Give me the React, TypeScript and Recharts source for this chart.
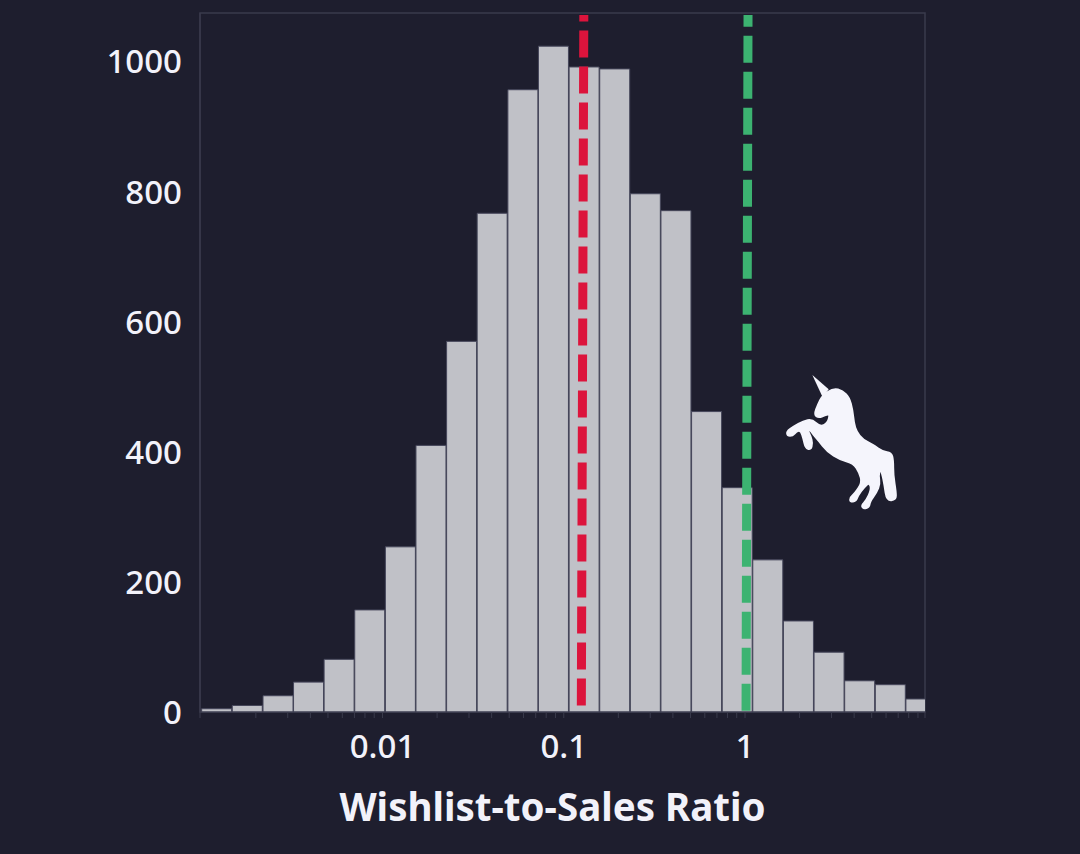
import { Bar, ComposedChart, Label, ReferenceArea, ReferenceLine, XAxis, YAxis } from 'recharts';

const binCenters = [
  0.00122, 0.0018, 0.00266, 0.00392, 0.00578, 0.00853, 0.01259, 0.01857, 0.0274, 0.0404, 0.0597, 0.088,
  0.1299, 0.1917, 0.2828, 0.4173, 0.6157, 0.9085, 1.34, 1.978, 2.918, 4.306, 6.353, 9.374,
];
const binCounts = [5, 10, 25, 46, 81, 157, 254, 410, 570, 767, 957, 1024, 992, 989, 797, 771, 462, 345, 234, 140, 92, 48, 42, 20];

const yTicks = [0, 200, 400, 600, 800, 1000];
const xTicks = [
  0.000984, 0.002, 0.003, 0.004, 0.005, 0.006, 0.007, 0.008, 0.009, 0.01, 0.02, 0.03, 0.04, 0.05, 0.06, 0.07, 0.08, 0.09, 0.1,
  0.2, 0.3, 0.4, 0.5, 0.6, 0.7, 0.8, 0.9, 1, 2, 3, 4, 5, 6, 7, 8, 9, 9.84,
];
const xLabels = [0.01, 0.1, 1];
const xDomain = [0.000984, 9.84];
const yDomain = [0, 1075];

const redLine = [0.125, 0.129];
const greenLine = [1.013, 1.039];

const COLORS = {
  background: '#1e1e2e',
  bar: '#c0c1c7',
  barEdge: '#45465a',
  frame: '#3a3b4c',
  text: '#f2f2fa',
  red: '#dc143c',
  green: '#3cb371',
};

const FONT = '"Noto Sans", sans-serif';

const data = binCenters.map((ratio, i) => ({ ratio, count: binCounts[i] }));

const HORN = 'M127 45 L176 88 L158 112 Z';
const UNICORN_POINTS = [
  [156, 108], [190, 84], [218, 92], [238, 112], [248, 150], [252, 190], [260, 215], [278, 238], [312, 256], [338, 274],
  [364, 278], [370, 300], [370, 345], [378, 395], [378, 420], [350, 422], [343, 375], [336, 340], [331, 328], [326, 345],
  [330, 372], [320, 397], [300, 425], [298, 442], [280, 447], [274, 436], [288, 422], [304, 388], [298, 368], [282, 382],
  [264, 407], [258, 424], [240, 426], [240, 412], [253, 402], [276, 368], [268, 338], [250, 310], [212, 300], [170, 274],
  [146, 242], [128, 222], [122, 212], [112, 208], [122, 228], [128, 250], [122, 270], [106, 264], [100, 236], [92, 212],
  [80, 214], [68, 228], [52, 228], [50, 214], [70, 200], [100, 183], [126, 177], [150, 200], [172, 190], [180, 162],
  [165, 166], [146, 174], [132, 164], [144, 132],
];

function smoothPath(points: number[][]) {
  const mid = (a: number[], b: number[]) => `${(a[0] + b[0]) / 2} ${(a[1] + b[1]) / 2}`;
  let d = `M${mid(points[points.length - 1], points[0])}`;
  points.forEach((p, i) => {
    d += ` Q${p[0]} ${p[1]} ${mid(p, points[(i + 1) % points.length])}`;
  });
  return d + ' Z';
}

export default function App() {
  return (
    <div style={{ position: 'absolute', left: 0, top: 0, width: 1080, height: 854, background: COLORS.background, overflow: 'hidden' }}>
      <ComposedChart width={1080} height={854} data={data} margin={{ top: 13, right: 155, bottom: 0, left: 0 }}>
        <ReferenceArea x1={xDomain[0]} x2={xDomain[1]} y1={yDomain[0]} y2={yDomain[1]} fill="none" stroke={COLORS.frame} strokeWidth={1.5} />
        <XAxis
          dataKey="ratio"
          type="number"
          scale="log"
          domain={xDomain}
          allowDataOverflow
          ticks={xTicks}
          interval={0}
          height={142}
          tickSize={6}
          tickMargin={17}
          stroke={COLORS.frame}
          tick={{ fill: COLORS.text, fontSize: 33, fontWeight: 500, fontFamily: FONT }}
          tickFormatter={(v: number) => (xLabels.includes(v) ? String(v) : '')}
        >
          <Label value="Wishlist-to-Sales Ratio" position="insideBottom" offset={33} dx={-10} fill={COLORS.text} fontSize={38.5} fontWeight={700} fontFamily={FONT} />
        </XAxis>
        <YAxis
          type="number"
          domain={yDomain}
          ticks={yTicks}
          width={200}
          tickSize={0}
          tickMargin={18}
          stroke={COLORS.frame}
          tick={{ fill: COLORS.text, fontSize: 33, fontWeight: 500, fontFamily: FONT }}
        />
        <Bar dataKey="count" barSize={30} fill={COLORS.bar} stroke={COLORS.barEdge} strokeWidth={1} isAnimationActive={false} />
        <ReferenceLine
          segment={[{ x: redLine[0], y: 10 }, { x: redLine[1], y: 1072 }]}
          stroke={COLORS.red}
          strokeWidth={9}
          strokeDasharray="27 9"
        />
        <ReferenceLine
          segment={[{ x: greenLine[0], y: 2 }, { x: greenLine[1], y: 1072 }]}
          stroke={COLORS.green}
          strokeWidth={9}
          strokeDasharray="27 9"
        />
      </ComposedChart>
      <svg width={140} height={160} viewBox="0 0 420 480" style={{ position: 'absolute', left: 770, top: 360 }}>
        <path d={HORN} fill="#f5f5fc" />
        <path d={smoothPath(UNICORN_POINTS)} fill="#f5f5fc" stroke="#f5f5fc" strokeWidth={5} strokeLinejoin="round" />
      </svg>
    </div>
  );
}
